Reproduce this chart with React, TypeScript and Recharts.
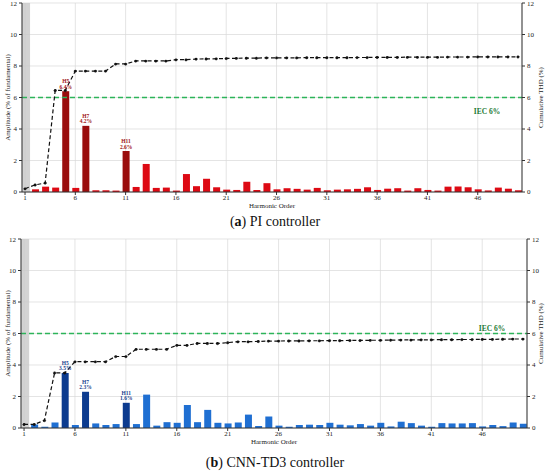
import React from 'react';
import {
  ComposedChart,
  Bar,
  Line,
  XAxis,
  YAxis,
  CartesianGrid,
  ReferenceLine,
  ReferenceArea,
  Cell,
  LabelList,
} from 'recharts';

const harmonics = [
  1, 2, 3, 4, 5, 6, 7, 8, 9, 10, 11, 12, 13, 14, 15, 16, 17, 18, 19, 20, 21, 22, 23, 24, 25,
  26, 27, 28, 29, 30, 31, 32, 33, 34, 35, 36, 37, 38, 39, 40, 41, 42, 43, 44, 45, 46, 47, 48, 49, 50,
];
const xTicks = [1, 6, 11, 16, 21, 26, 31, 36, 41, 46];
const yTicks = [0, 2, 4, 6, 8, 10, 12];
const labelHarmonics = [5, 7, 11];
const labelNames = ['H5', 'H7', 'H11'];

const piAmplitude = [
  null, 0.17, 0.34, 0.28, 6.4, 0.26, 4.2, 0.11, 0.11, 0.09, 2.6, 0.32, 1.78, 0.26, 0.28, 0.09, 1.14, 0.37, 0.84, 0.3,
  0.15, 0.13, 0.65, 0.13, 0.56, 0.17, 0.24, 0.2, 0.15, 0.26, 0.11, 0.15, 0.17, 0.2, 0.3, 0.13, 0.21, 0.24, 0.09, 0.24,
  0.13, 0.09, 0.34, 0.35, 0.3, 0.17, 0.1, 0.28, 0.21, 0.11,
];
const piCumulativeThd = [
  0.21, 0.45, 0.57, 6.45, 6.45, 7.68, 7.68, 7.68, 7.68, 8.13, 8.13, 8.32, 8.32, 8.32, 8.32, 8.4, 8.4, 8.44, 8.45, 8.46,
  8.48, 8.49, 8.5, 8.5, 8.52, 8.52, 8.52, 8.52, 8.53, 8.53, 8.53, 8.53, 8.53, 8.54, 8.54, 8.55, 8.55, 8.55, 8.56, 8.56,
  8.56, 8.56, 8.57, 8.57, 8.57, 8.58, 8.58, 8.58, 8.58, 8.58,
];
const piLabelValues = ['6.4%', '4.2%', '2.6%'];

const cnnAmplitude = [
  null, 0.23, 0.08, 0.35, 3.5, 0.19, 2.3, 0.29, 0.19, 0.25, 1.6, 0.25, 2.12, 0.15, 0.37, 0.33, 1.46, 0.37, 1.15, 0.33,
  0.29, 0.35, 0.85, 0.12, 0.73, 0.15, 0.08, 0.19, 0.21, 0.19, 0.33, 0.21, 0.17, 0.25, 0.15, 0.33, 0.1, 0.4, 0.31, 0.15,
  0.08, 0.31, 0.29, 0.29, 0.31, 0.1, 0.19, 0.12, 0.35, 0.27,
];
const cnnCumulativeThd = [
  0.23, 0.23, 0.48, 3.5, 3.5, 4.21, 4.21, 4.21, 4.21, 4.54, 4.54, 5.0, 5.0, 5.0, 5.0, 5.25, 5.25, 5.37, 5.37, 5.37,
  5.42, 5.48, 5.48, 5.5, 5.52, 5.52, 5.53, 5.53, 5.54, 5.54, 5.55, 5.55, 5.56, 5.56, 5.57, 5.57, 5.58, 5.59, 5.59, 5.6,
  5.6, 5.61, 5.61, 5.62, 5.62, 5.63, 5.63, 5.64, 5.65, 5.65,
];
const cnnLabelValues = ['3.5%', '2.3%', '1.6%'];
const iecLimit = [6];

const SERIF = '"Liberation Serif", "Times New Roman", serif';
const IEC_GREEN = '#2db45a';

type SpectrumProps = {
  amplitude: (number | null)[];
  thd: number[];
  labelValues: string[];
  dark: string;
  light: string;
  labelColor: string;
  iecAbove: boolean;
  leftWidth: number;
  rightWidth: number;
};

function Spectrum(props: SpectrumProps) {
  const { amplitude, thd, labelValues, dark, light, labelColor, iecAbove, leftWidth, rightWidth } = props;
  const data = harmonics.map((h, i) => ({ h, amp: amplitude[i], thd: thd[i] }));
  const tickStyle = { fontFamily: SERIF, fontSize: 7, fill: '#222' };

  const renderBarLabel = (p: any) => {
    const idx = labelHarmonics.indexOf(p.value);
    if (idx < 0) return null;
    const cx = p.x + p.width / 2;
    return (
      <g>
        <text x={cx} y={p.y - 8} textAnchor="middle" fontFamily={SERIF} fontSize={5.5} fontWeight="bold" fill={labelColor}>
          {labelNames[idx]}
        </text>
        <text x={cx} y={p.y - 2.5} textAnchor="middle" fontFamily={SERIF} fontSize={5.5} fontWeight="bold" fill={labelColor}>
          {labelValues[idx]}
        </text>
      </g>
    );
  };

  return (
    <ComposedChart width={550} height={212} data={data} margin={{ top: 3, right: 0, bottom: 0, left: 0 }}>
      <CartesianGrid yAxisId="left" stroke="#d8d8d8" strokeWidth={0.7} />
      <ReferenceArea yAxisId="left" x1={0.7} x2={1.5} y1={0} y2={12} fill="#c8c8c8" fillOpacity={0.8} stroke="none" />
      <XAxis
        dataKey="h"
        type="number"
        domain={[0.7, 50.4]}
        allowDataOverflow
        ticks={xTicks}
        interval={0}
        height={20}
        tick={tickStyle}
        tickSize={3}
        tickMargin={0}
        stroke="#333"
        label={{
          content: (lp: any) => (
            <text
              x={lp.viewBox.x + lp.viewBox.width / 2}
              y={lp.viewBox.y + 16}
              textAnchor="middle"
              fontFamily={SERIF}
              fontSize={7}
              fill="#222"
            >
              Harmonic Order
            </text>
          ),
        }}
      />
      <XAxis
        xAxisId="top"
        orientation="top"
        dataKey="h"
        type="number"
        domain={[0.7, 50.4]}
        allowDataOverflow
        height={0}
        tick={false}
        tickLine={false}
        stroke="#333"
      />
      <YAxis
        yAxisId="left"
        width={leftWidth}
        domain={[0, 12]}
        ticks={yTicks}
        interval={0}
        tick={tickStyle}
        tickSize={3}
        tickMargin={2}
        stroke="#333"
        label={{
          content: (lp: any) => {
            const cx = 8;
            const cy = lp.viewBox.y + lp.viewBox.height / 2;
            return (
              <text
                x={cx}
                y={cy}
                transform={`rotate(-90 ${cx} ${cy})`}
                textAnchor="middle"
                dominantBaseline="central"
                fontFamily={SERIF}
                fontSize={7}
                fill="#222"
              >
                Amplitude (% of fundamental)
              </text>
            );
          },
        }}
      />
      <YAxis
        yAxisId="right"
        orientation="right"
        width={rightWidth}
        domain={[0, 12]}
        ticks={yTicks}
        interval={0}
        tick={tickStyle}
        tickSize={3}
        tickMargin={2}
        stroke="#333"
        label={{
          content: (lp: any) => {
            const cx = lp.viewBox.x + rightWidth - 9;
            const cy = lp.viewBox.y + lp.viewBox.height / 2;
            return (
              <text
                x={cx}
                y={cy}
                transform={`rotate(-90 ${cx} ${cy})`}
                textAnchor="middle"
                dominantBaseline="central"
                fontFamily={SERIF}
                fontSize={7}
                fill="#222"
              >
                Cumulative THD (%)
              </text>
            );
          },
        }}
      />
      <Bar yAxisId="left" dataKey="amp" barSize={7} isAnimationActive={false}>
        {data.map((d) => (
          <Cell key={d.h} fill={labelHarmonics.includes(d.h) ? dark : light} />
        ))}
        <LabelList dataKey="h" content={renderBarLabel} />
      </Bar>
      <ReferenceLine
        yAxisId="left"
        y={iecLimit[0]}
        stroke={IEC_GREEN}
        strokeOpacity={1}
        strokeWidth={1.4}
        strokeDasharray="5 3"
        label={{
          content: (lp: any) => (
            <text
              x={lp.viewBox.x + lp.viewBox.width - 35}
              y={lp.viewBox.y + (iecAbove ? -3 : 16)}
              textAnchor="middle"
              fontFamily={SERIF}
              fontSize={7.5}
              fontWeight="bold"
              fill="#1e7a34"
            >
              IEC 6%
            </text>
          ),
        }}
      />
      <Line
        yAxisId="right"
        dataKey="thd"
        stroke="#111"
        strokeWidth={1.2}
        strokeDasharray="4 2.5"
        dot={{ r: 1.3, fill: '#111', stroke: '#111', strokeWidth: 0.5 }}
        isAnimationActive={false}
      />
    </ComposedChart>
  );
}

const captionStyle: React.CSSProperties = {
  position: 'absolute',
  left: 0,
  width: 550,
  textAlign: 'center',
  fontFamily: SERIF,
  fontSize: 14,
  color: '#111',
  lineHeight: '16px',
};

export default function App() {
  return (
    <div style={{ position: 'absolute', left: 0, top: 0, width: 550, height: 475, background: '#fff', overflow: 'hidden' }}>
      <div style={{ position: 'absolute', left: 0, top: 0 }}>
        <Spectrum
          amplitude={piAmplitude}
          thd={piCumulativeThd}
          labelValues={piLabelValues}
          dark="#9a0d0d"
          light="#dd0a14"
          labelColor="#a01414"
          iecAbove={false}
          leftWidth={22}
          rightWidth={28}
        />
      </div>
      <div style={{ ...captionStyle, top: 214 }}>
        (<b>a</b>) PI controller
      </div>
      <div style={{ position: 'absolute', left: 0, top: 236 }}>
        <Spectrum
          amplitude={cnnAmplitude}
          thd={cnnCumulativeThd}
          labelValues={cnnLabelValues}
          dark="#0c3b8f"
          light="#1f6fd2"
          labelColor="#1a3f8f"
          iecAbove={true}
          leftWidth={21}
          rightWidth={23}
        />
      </div>
      <div style={{ ...captionStyle, top: 455 }}>
        (<b>b</b>) CNN-TD3 controller
      </div>
    </div>
  );
}
